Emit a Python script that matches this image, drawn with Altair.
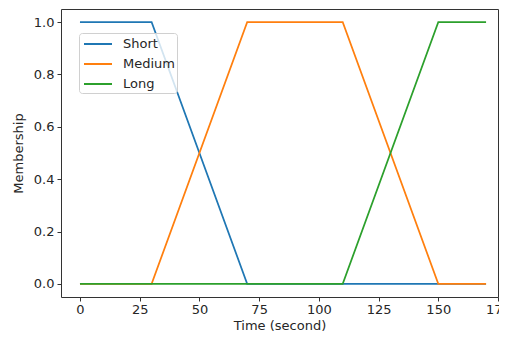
import altair as alt
import pandas as pd

short_x = [0, 30, 70, 170]
short_y = [1, 1, 0, 0]
medium_x = [0, 30, 70, 110, 150, 170]
medium_y = [0, 0, 1, 1, 0, 0]
long_x = [0, 110, 150, 170]
long_y = [0, 0, 1, 1]
series = ["Short", "Medium", "Long"]
colors = ["#1f77b4", "#ff7f0e", "#2ca02c"]
x_ticks = [0, 25, 50, 75, 100, 125, 150, 175]
y_ticks = [0.0, 0.2, 0.4, 0.6, 0.8, 1.0]

rows = []
for name, xs, ys in [("Short", short_x, short_y), ("Medium", medium_x, medium_y), ("Long", long_x, long_y)]:
    for i, (a, b) in enumerate(zip(xs, ys)):
        rows.append({"series": name, "t": a, "m": b, "i": i})
df = pd.DataFrame(rows)

FONT = "DejaVu Sans"
chart = alt.Chart(df).mark_line(strokeWidth=1.7, clip=False).encode(
    x=alt.X("t:Q", title="Time (second)",
            scale=alt.Scale(domain=[-7.94, 175.0], nice=False, zero=False),
            axis=alt.Axis(values=x_ticks, format="d", labelFlush=False, labelPadding=2,
                          titleY=35, titleBaseline="bottom")),
    y=alt.Y("m:Q", title="Membership",
            scale=alt.Scale(domain=[-0.05, 1.05], nice=False, zero=False),
            axis=alt.Axis(values=y_ticks, format=".1f")),
    color=alt.Color("series:N", sort=series,
                    scale=alt.Scale(domain=series, range=colors),
                    legend=alt.Legend(title=None, orient="none", legendX=18, legendY=24,
                                      symbolType="M-1.75,0L1.75,0", symbolStrokeWidth=2,
                                      symbolSize=256, symbolOffset=8, labelFontSize=13, labelFont=FONT,
                                      labelColor="#262626", rowPadding=4,
                                      padding=2, strokeColor="#d0d0d0", fillColor="rgba(255,255,255,0.8)",
                                      cornerRadius=3, labelOffset=16)),
    order=alt.Order("i:Q"),
).properties(
    width=437, height=288,
    autosize=alt.AutoSizeParams(type="none"),
    padding={"left": 53, "top": 1, "right": 1, "bottom": 35},
).configure_view(
    stroke="#333333", strokeWidth=1
).configure_axis(
    grid=False, domain=False, tickColor="#333333", tickSize=4, tickWidth=1,
    labelFont=FONT, labelFontSize=13, labelColor="#262626", labelPadding=3,
    titleFont=FONT, titleFontSize=13, titleColor="#262626", titleFontWeight="normal",
).configure_axisY(titlePadding=8)

chart.save("out.html", embed_options={"renderer": "svg", "actions": False})
